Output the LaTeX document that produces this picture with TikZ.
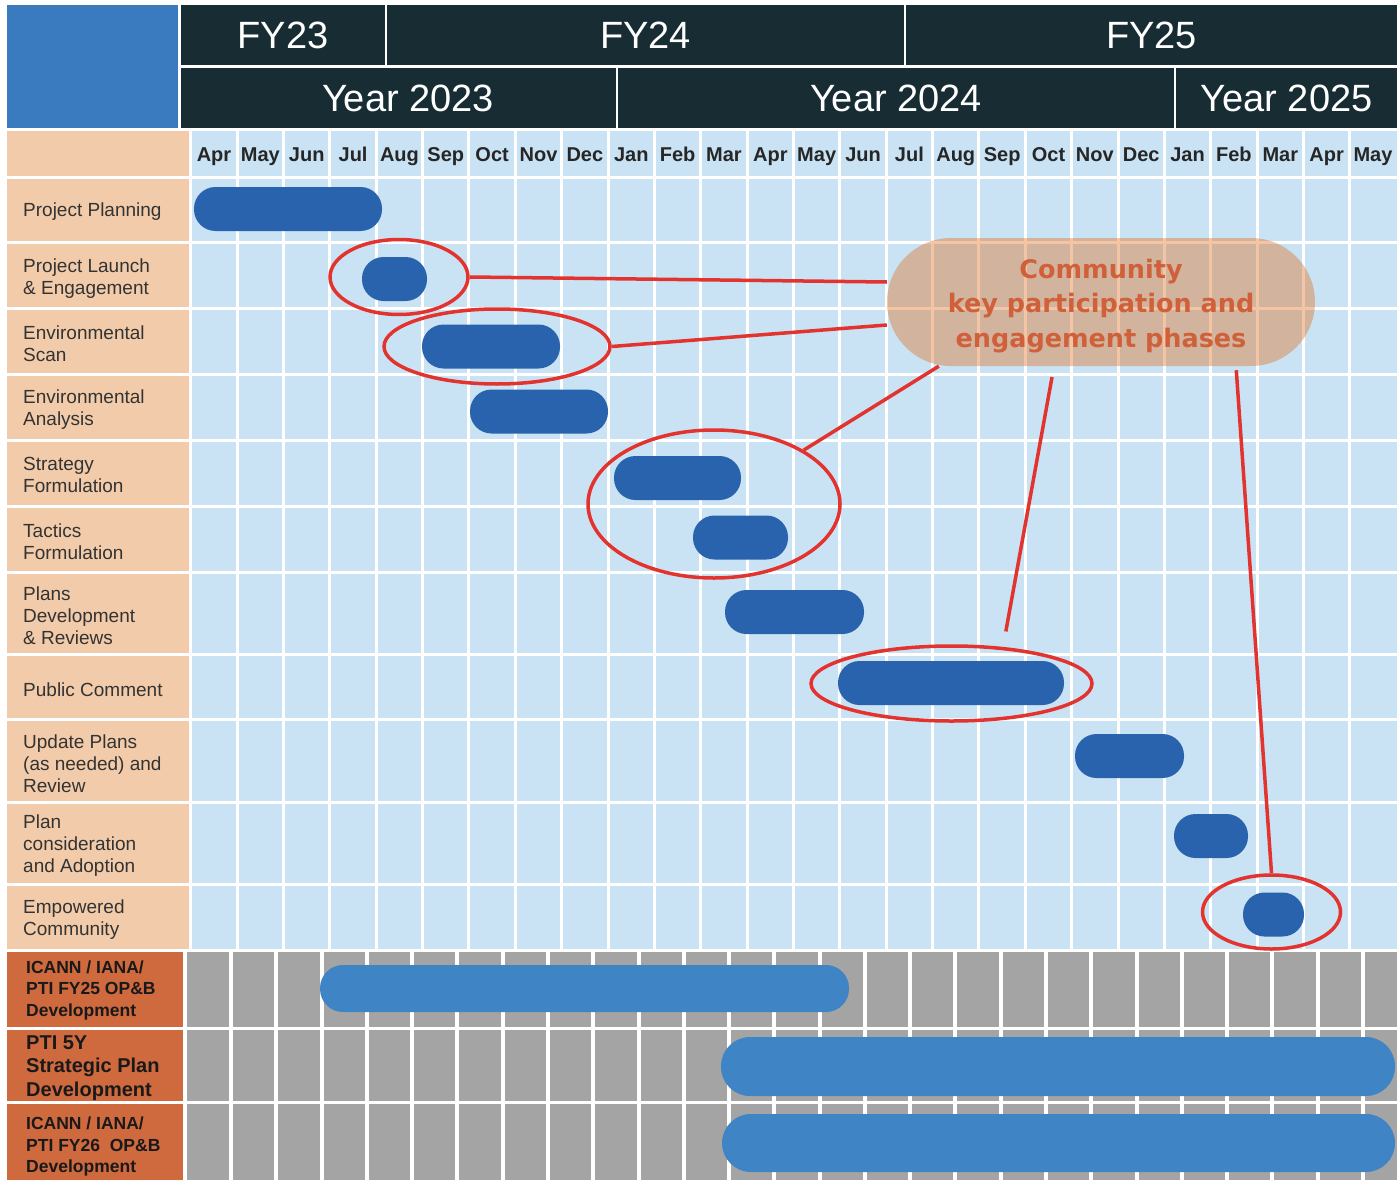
\documentclass[tikz,border=0pt]{standalone}
\usepackage{fontspec}
\setmainfont{Liberation Sans}
\newfontfamily\calloutfont{DejaVu Sans}
\usepackage{tikz}
\usetikzlibrary{shapes.geometric,calc}

\definecolor{hdrdark}{RGB}{23,45,51}
\definecolor{cornerblue}{RGB}{58,123,191}
\definecolor{peach}{RGB}{242,204,170}
\definecolor{cellblue}{RGB}{201,227,244}
\definecolor{bardark}{RGB}{42,99,173}
\definecolor{barlight}{RGB}{63,132,196}
\definecolor{cellgray}{RGB}{164,164,164}
\definecolor{rust}{RGB}{207,105,62}
\definecolor{ringred}{RGB}{227,51,46}
\definecolor{phaseorange}{RGB}{225,110,30}
\definecolor{phasetext}{RGB}{208,96,58}

\tikzset{
  gridline/.style={white, line width=3pt},
  hdr/.style={fill=hdrdark, text=white, inner sep=0pt, font=\fontsize{38}{40}\selectfont},
  month/.style={anchor=base, inner sep=0pt, font=\bfseries\fontsize{20}{22}\selectfont, text=black!85},
  task/.style={anchor=west, align=left, inner sep=0pt, text=black!80, font=\fontsize{19}{22}\selectfont},
  ops/.style={anchor=west, align=left, inner sep=0pt, text=black!90, font=\bfseries\fontsize{17.5}{21.5}\selectfont},
  bar/.style={fill=bardark},
  opsbar/.style={fill=barlight},
  ring/.style={draw=ringred, line width=3.5pt, ellipse, inner sep=0pt},
  link/.style={draw=ringred, line width=3.5pt},
  phase/.style={rectangle, rounded corners=64pt, minimum width=428pt, minimum height=128pt,
    fill=phaseorange, fill opacity=0.4, text opacity=1, text=phasetext, align=center,
    font=\calloutfont\bfseries\fontsize{25.5}{34.5}\selectfont}
}

\begin{document}
\begin{tikzpicture}[x=1pt,y=-1pt]
\useasboundingbox (0,0) rectangle (1397,1180);
\fill[white] (0,0) rectangle (1397,1180);

% chart grid
\fill[cellblue] (190,131) rectangle (1397,948.5);
\fill[peach] (7,131) rectangle (189,948.5);
\foreach \k in {0,...,25}
  \draw[gridline] ({190.8+46.36*\k},131) -- ({190.8+46.36*\k},948.5);
\foreach \y in {177,242,308,374,440,506,572,654,719,802,884}
  \draw[gridline] (7,\y) -- (1397,\y);

\fill[rust] (7,951.5) rectangle (183,1180);
\fill[cellgray] (187,951.5) rectangle (1397,1180);
\foreach \k in {0,...,25}
  \draw[gridline, line width=4pt] ({231+45.28*\k},951.5) -- ({231+45.28*\k},1180);
\foreach \y in {1028.5,1102.5}
  \draw[gridline] (7,\y) -- (1397,\y);

% header
\node[hdr, fill=cornerblue, minimum width=171pt, minimum height=123pt] (corner) at (92.5,66.5) {};
\node[hdr, minimum width=204pt, minimum height=60pt] (fy23) at (283,35) {FY23};
\node[hdr, minimum width=517pt, minimum height=60pt] (fy24) at (645.5,35) {FY24};
\node[hdr, minimum width=491pt, minimum height=60pt] (fy25) at (1151.5,35) {FY25};
\node[hdr, minimum width=435pt, minimum height=60pt] (y2023) at (398.5,98) {\hspace*{19pt}Year 2023};
\node[hdr, minimum width=556pt, minimum height=60pt] (y2024) at (896,98) {Year 2024};
\node[hdr, minimum width=221pt, minimum height=60pt] (y2025) at (1286.5,98) {Year 2025};

\foreach \m [count=\i from 0] in {Apr,May,Jun,Jul,Aug,Sep,Oct,Nov,Dec,Jan,Feb,Mar,Apr,May,Jun,Jul,Aug,Sep,Oct,Nov,Dec,Jan,Feb,Mar,Apr,May}
  \node[month] (m\i) at ({214+46.36*\i},161.5) {\m};

% tasks and bars
\foreach \ly/\txt/\xa/\xb/\by [count=\i] in {
    212/{Project Planning}/194/382/209,
    279/{Project Launch\\\& Engagement}/362/427/279,
    344/{Environmental\\Scan}/422/560/346.5,
    410/{Environmental\\Analysis}/470/608/411.5,
    475/{Strategy\\Formulation}/614/741/478,
    541.5/{Tactics\\Formulation}/693/788/537.5,
    616/{Plans\\Development\\\& Reviews}/725/864/612,
    690/{Public Comment}/838/1064/683,
    764/{Update Plans\\(as needed) and\\Review}/1075/1184/756,
    846/{Plan\\consideration\\and Adoption}/1174/1248/836,
    920/{Empowered\\Community}/1243/1304/914.5}{
  \node[task] (task\i) at (23,\ly) {\txt};
  \fill[bar, rounded corners=21.5pt] (\xa,{\by-22}) rectangle (\xb,{\by+22});
}

\node[ops] (ops1) at (26,990) {ICANN / IANA/\\PTI FY25 OP\&B\\Development};
\node[ops, font=\bfseries\fontsize{20}{23.5}\selectfont] (ops2) at (26,1068) {PTI 5Y\\Strategic Plan\\Development};
\node[ops] (ops3) at (26,1146.5) {ICANN / IANA/\\PTI FY26~~OP\&B\\Development};
\fill[opsbar, rounded corners=23pt] (320,965) rectangle (849,1012);
\fill[opsbar, rounded corners=29pt] (721,1037) rectangle (1395,1096);
\fill[opsbar, rounded corners=29pt] (722,1114) rectangle (1395,1172);

% community phases
\node[ring, minimum width=138pt, minimum height=75pt] (ring1) at (399,277) {};
\node[ring, minimum width=226pt, minimum height=75pt] (ring2) at (497,346.5) {};
\node[ring, minimum width=252pt, minimum height=148pt] (ring3) at (714,504) {};
\node[ring, minimum width=281pt, minimum height=75pt] (ring4) at (951.5,683.5) {};
\node[ring, minimum width=138pt, minimum height=74pt] (ring5) at (1271.5,912) {};

\node[phase] (phase) at (1101,302) {\rule{0pt}{26.5pt}Community\\key participation and\\engagement phases};

\draw[link] (ring1.east) -- ([yshift=20pt]phase.west);
\draw[link] (ring2.east) -- ([yshift=-23pt]phase.west);
\draw[link] (ring3.31) -- ([xshift=52pt]phase.south west);
\draw[link, shorten <=11pt, shorten >=13pt] ([xshift=-47pt]phase.south) -- ([xshift=52pt]ring4.north);
\draw[link, shorten <=4pt] ([xshift=135pt]phase.south) -- (ring5.north);
\end{tikzpicture}
\end{document}
